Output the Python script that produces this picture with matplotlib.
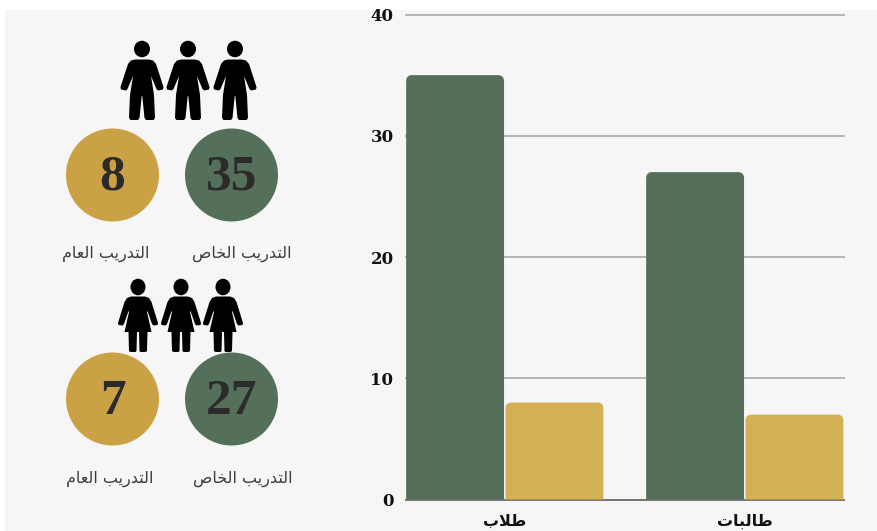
import matplotlib
matplotlib.use("Agg")
import matplotlib.pyplot as plt
from matplotlib.patches import Circle, PathPatch, Ellipse, Rectangle
from matplotlib.path import Path

W, H = 877, 531

# data
categories = ["طلاب", "طالبات"]
private_training = [35, 27]
general_training = [8, 7]
y_ticks = [0, 10, 20, 30, 40]
label_private = "التدريب الخاص"
label_general = "التدريب العام"

GREEN = "#54705a"
GOLD = "#d4b054"
CIRCLE_GOLD = "#cba145"
BG = "#f6f6f6"
INK = "#2b2b2b"

# matplotlib does no arabic shaping, so map letters to presentation forms
# letter: (isolated, final, initial, medial)
FORMS = {
    "ا": ("\ufe8d", "\ufe8e", None, None),
    "ب": ("\ufe8f", "\ufe90", "\ufe91", "\ufe92"),
    "ت": ("\ufe95", "\ufe96", "\ufe97", "\ufe98"),
    "خ": ("\ufea5", "\ufea6", "\ufea7", "\ufea8"),
    "د": ("\ufea9", "\ufeaa", None, None),
    "ر": ("\ufead", "\ufeae", None, None),
    "ص": ("\ufeb9", "\ufeba", "\ufebb", "\ufebc"),
    "ط": ("\ufec1", "\ufec2", "\ufec3", "\ufec4"),
    "ع": ("\ufec9", "\ufeca", "\ufecb", "\ufecc"),
    "ل": ("\ufedd", "\ufede", "\ufedf", "\ufee0"),
    "م": ("\ufee1", "\ufee2", "\ufee3", "\ufee4"),
    "ي": ("\ufef1", "\ufef2", "\ufef3", "\ufef4"),
}


def shape(text):
    words = []
    for word in text.split(" "):
        out = []
        i = 0
        joined = False
        while i < len(word):
            c = word[i]
            nxt = word[i + 1] if i + 1 < len(word) else None
            if c == "ل" and nxt == "ا":
                out.append("\ufefc" if joined else "\ufefb")
                joined = False
                i += 2
                continue
            f = FORMS[c]
            can_next = nxt is not None and f[2] is not None
            if joined and can_next:
                out.append(f[3])
            elif joined:
                out.append(f[1])
            elif can_next:
                out.append(f[2])
            else:
                out.append(f[0])
            joined = can_next
            i += 1
        words.append("".join(out)[::-1])
    return " ".join(words[::-1])


def rounded_bar(ax, x, width, height, color, rx=0.025, ry=0.5):
    left, right = x - width / 2, x + width / 2
    verts = [(left, 0), (left, height - ry), (left, height), (left + rx, height),
             (right - rx, height), (right, height), (right, height - ry), (right, 0), (left, 0)]
    codes = [Path.MOVETO, Path.LINETO, Path.CURVE3, Path.CURVE3,
             Path.LINETO, Path.CURVE3, Path.CURVE3, Path.LINETO, Path.CLOSEPOLY]
    ax.add_patch(PathPatch(Path(verts, codes), facecolor=color, edgecolor="none", zorder=3))


def man(ax, cx, top):
    ax.add_patch(Ellipse((cx, top + 8), 16, 16.5, color="black", lw=0))
    right = [(7, 18.5), (11, 19.5), (14, 23), (21.5, 46), (21, 48.5), (16, 49.5), (14.5, 48),
             (9, 35), (12, 54), (13, 77), (11.5, 79), (4, 79), (2.5, 77), (0.3, 55)]
    pts = right + [(-x, y) for x, y in right[::-1]]
    ax.fill([cx + p[0] for p in pts], [top + p[1] for p in pts], color="black", lw=0)


def woman(ax, cx, top):
    ax.add_patch(Ellipse((cx, top + 8), 15, 16.5, color="black", lw=0))
    right = [(7, 17.5), (11, 19), (13.5, 23), (20, 44), (19.5, 46), (15.5, 46.5), (14, 45),
             (9.5, 32), (9, 33), (13.5, 53), (9.5, 53), (9, 72), (7.5, 73), (2.5, 73), (1.5, 72), (1, 53)]
    pts = right + [(-x, y) for x, y in right[::-1]]
    ax.fill([cx + p[0] for p in pts], [top + p[1] for p in pts], color="black", lw=0)


fig = plt.figure(figsize=(W / 100, H / 100), dpi=100, facecolor="white")

# full figure axes in pixel coords for the background and the left panel
bg = fig.add_axes([0, 0, 1, 1], zorder=0)
bg.set_xlim(0, W)
bg.set_ylim(H, 0)
bg.axis("off")
bg.add_patch(Rectangle((5, 10), W - 5, H - 10, facecolor=BG, edgecolor="none"))

for cx in [142, 188, 235]:
    man(bg, cx, 41)
for cx in [138, 181, 223]:
    woman(bg, cx, 279)

panels = [
    (175, private_training[0], general_training[0]),
    (399, private_training[1], general_training[1]),
]
for cy, pv, gv in panels:
    bg.add_patch(Circle((231.5, cy), 46.5, color=GREEN, lw=0))
    bg.add_patch(Circle((112.5, cy), 46.5, color=CIRCLE_GOLD, lw=0))
    bg.text(231.5, cy + 3, str(pv), ha="center", va="center", fontsize=37, fontweight="bold",
            family="Liberation Serif", color=INK)
    bg.text(112.5, cy + 3, str(gv), ha="center", va="center", fontsize=37, fontweight="bold",
            family="Liberation Serif", color=INK)

bg.text(242, 254, shape(label_private), ha="center", va="center", fontsize=11.5, color="#3c3c3c", family="DejaVu Sans")
bg.text(106, 254, shape(label_general), ha="center", va="center", fontsize=11.5, color="#3c3c3c", family="DejaVu Sans")
bg.text(243, 479, shape(label_private), ha="center", va="center", fontsize=11.5, color="#3c3c3c", family="DejaVu Sans")
bg.text(110, 479, shape(label_general), ha="center", va="center", fontsize=11.5, color="#3c3c3c", family="DejaVu Sans")

# bar chart
ax = fig.add_axes([406 / W, 1 - 499.5 / H, 438 / W, 485 / H], zorder=1)
ax.patch.set_alpha(0)
ax.set_xlim(-0.4125, 1.4125)
ax.set_ylim(0, 40)
w = 0.408
for i in range(len(categories)):
    rounded_bar(ax, i - 0.208, w, private_training[i], GREEN)
    rounded_bar(ax, i + 0.206, w, general_training[i], GOLD)

ax.set_yticks(y_ticks)
ax.set_yticklabels([str(v) for v in y_ticks], fontsize=12, fontweight="bold", family="DejaVu Serif", color="#111111")
ax.set_xticks(range(len(categories)))
ax.set_xticklabels([shape(c) for c in categories], fontsize=11.5, fontweight="bold", family="DejaVu Sans", color="#111111")
ax.tick_params(axis="both", length=0)
ax.tick_params(axis="y", pad=9)
ax.tick_params(axis="x", pad=10)
ax.grid(axis="y", color="#b5b5b5", lw=1.4, zorder=1, clip_on=False)
ax.set_axisbelow(True)
for s in ["top", "left", "right"]:
    ax.spines[s].set_visible(False)
ax.spines["bottom"].set_color("#6a6a6a")
ax.spines["bottom"].set_linewidth(1.2)

fig.savefig("out.png", dpi=100, facecolor="white")
